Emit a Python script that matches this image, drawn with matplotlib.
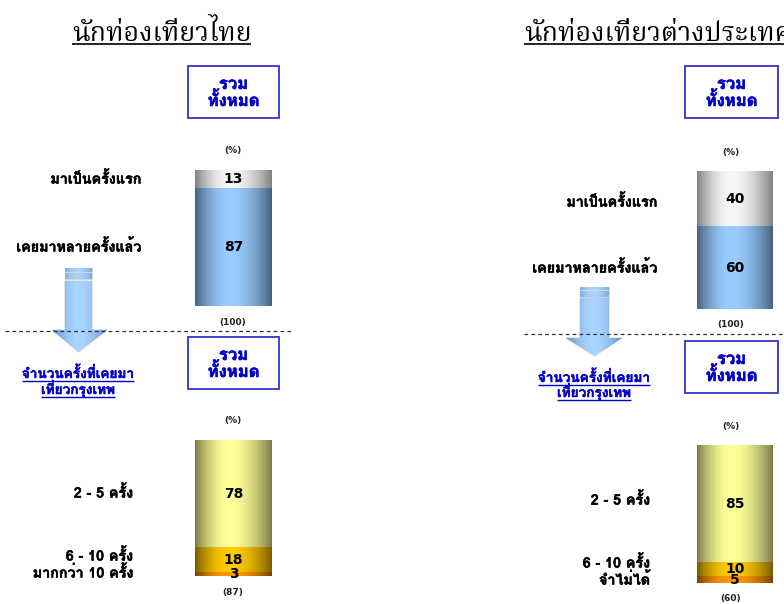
import numpy as np
import matplotlib
matplotlib.use('Agg')
import matplotlib.pyplot as plt
from matplotlib import font_manager, ft2font
from matplotlib.patches import Rectangle, Polygon
from matplotlib.colors import to_rgb
import matplotlib.patheffects as pe

# ---------------- data ----------------
panel_titles = ['นักท่องเที่ยวไทย', 'นักท่องเที่ยวต่างประเทศ']
box_label = 'รวม\nทั้งหมด'
link_lines = ['จำนวนครั้งที่เคยมา', 'เที่ยวกรุงเทพ']
unit_label = '(%)'
visit_categories = ['มาเป็นครั้งแรก', 'เคยมาหลายครั้งแล้ว']
thai_visit_values = [13, 87]
foreign_visit_values = [40, 60]
visit_bases = ['(100)', '(100)']
thai_freq_categories = ['2 - 5 ครั้ง', '6 - 10 ครั้ง', 'มากกว่า 10 ครั้ง']
thai_freq_values = [78, 18, 3]
foreign_freq_categories = ['2 - 5 ครั้ง', '6 - 10 ครั้ง', 'จำไม่ได้']
foreign_freq_values = [85, 10, 5]
freq_bases = ['(87)', '(60)']

# ---------------- fonts ----------------
def find_thai_fonts():
    names = []
    for fe in font_manager.fontManager.ttflist:
        if fe.name in names:
            continue
        try:
            f = ft2font.FT2Font(fe.fname)
            if 0x0E01 in f.get_charmap():
                names.append(fe.name)
        except Exception:
            pass
    return names

thai_avail = find_thai_fonts()
sans_pref = ['Tahoma', 'Loma', 'Noto Sans Thai', 'Garuda', 'Sarabun', 'Kinnari']
serif_pref = ['Angsana New', 'Norasi', 'Noto Serif Thai', 'FreeSerif', 'Kinnari']
SANS = next((n for n in sans_pref if n in thai_avail), thai_avail[0] if thai_avail else 'DejaVu Sans')
SERIF = next((n for n in serif_pref if n in thai_avail), SANS)
SANS_F = [SANS, 'DejaVu Sans']
SERIF_F = [SERIF, 'DejaVu Serif']
NUM_F = ['DejaVu Sans']

W, H = 784, 604
fig = plt.figure(figsize=(W / 100, H / 100), dpi=100)
ov = fig.add_axes([0, 0, 1, 1])
ov.set_xlim(0, W)
ov.set_ylim(H, 0)
ov.axis('off')

def bold_fx(color, w=0.35):
    return [pe.withStroke(linewidth=w, foreground=color)]

def px_axes(x0, y0, x1, y1):
    a = fig.add_axes([x0 / W, 1 - y1 / H, (x1 - x0) / W, (y1 - y0) / H])
    a.axis('off')
    return a

def gradient(c_edge, c_mid, n=256, peak=0.45):
    t = np.linspace(0, 1, n)
    d = np.where(t < peak, (peak - t) / peak, (t - peak) / (1 - peak))
    w = np.cos(np.clip(d, 0, 1) * np.pi / 2) ** 0.9
    e = np.array(to_rgb(c_edge)); m = np.array(to_rgb(c_mid))
    img = e[None, :] * (1 - w[:, None]) + m[None, :] * w[:, None]
    return img[None, :, :]

def fill_gradient(ax, patch, c_edge, c_mid, extent, peak=0.45):
    im = ax.imshow(gradient(c_edge, c_mid, peak=peak), extent=extent, aspect='auto',
                   interpolation='bilinear', zorder=patch.get_zorder())
    im.set_clip_path(patch)

def stacked_bar(rect, values, colors, total=None):
    ax = px_axes(*rect)
    total = total if total is not None else sum(values)
    bottoms = np.concatenate([[0], np.cumsum(values)[:-1]])
    bars = ax.bar(0, values, bottom=bottoms, width=1.0, color='none', edgecolor='none', zorder=2)
    for b, (ce, cm) in zip(bars, colors):
        x0 = b.get_x(); x1 = x0 + b.get_width()
        y0 = b.get_y(); y1 = y0 + b.get_height()
        fill_gradient(ax, b, ce, cm, (x0, x1, y1, y0))
    for v, bt in zip(values, bottoms):
        ax.text(0, bt + v / 2, str(v), ha='center', va='center', fontsize=10,
                fontweight='bold', family=NUM_F, color='black', zorder=5)
    ax.set_xlim(-0.5, 0.5)
    ax.set_ylim(total, 0)
    return ax

GRAY = ('#7f7f7f', '#f7f7f7')
BLUE = ('#46607c', '#99ccff')
YEL = ('#7a7a48', '#ffff99')
GOLD = ('#7a5a00', '#ffcc00')
ORNG = ('#7a3f00', '#ff9900')

def box(x0, y0, x1, y1):
    ov.add_patch(Rectangle((x0, y0), x1 - x0, y1 - y0, fill=False, edgecolor='#3333cc', lw=1.3))
    ov.text((x0 + x1) / 2, (y0 + y1) / 2 + 1, box_label, ha='center', va='center', fontsize=12,
            fontweight='bold', color='#0000cc', family=SANS_F, linespacing=1.0,
            path_effects=bold_fx('#0000cc', 0.4))

def label(x, y, s, size=10.3, ha='right'):
    ov.text(x, y, s, ha=ha, va='center', fontsize=size, fontweight='bold', family=SANS_F,
            color='black', path_effects=bold_fx('black', 0.35))

def small(x, y, s):
    ov.text(x, y, s, ha='center', va='center', fontsize=6.5, fontweight='bold', family=NUM_F, color='#222222')

def underline_text(x, y, s, size, color, ha='center', family=None, weight='normal', lw=1.0, off=2.5,
                   fit=None, fx=None):
    t = ov.text(x, y, s, ha=ha, va='baseline', fontsize=size, color=color,
                family=family, fontweight=weight, path_effects=fx)
    fig.canvas.draw()
    r = fig.canvas.get_renderer()
    bb = t.get_window_extent(renderer=r)
    if fit is not None:
        t.set_fontsize(size * fit / bb.width)
        fig.canvas.draw()
        bb = t.get_window_extent(renderer=r)
    inv = ov.transData.inverted()
    (xa, _), (xb, _) = inv.transform([(bb.x0, bb.y0), (bb.x1, bb.y0)])
    ov.plot([xa, xb], [y + off, y + off], color=color, lw=lw, solid_capstyle='butt')
    return t

def arrow(xs0, xs1, ys_top, stripe1, stripe2, yh, xw0, xw1, ytip):
    for (a, b) in (stripe1, stripe2):
        r = Rectangle((xs0, a), xs1 - xs0, b - a, facecolor='none', edgecolor='#d0d0d0', lw=0.6)
        ov.add_patch(r)
        fill_gradient(ov, r, '#7fa9d6', '#a8d4ff', (xs0, xs1, b, a))
    xm = (xs0 + xs1) / 2
    pts = [(xs0, ys_top), (xs1, ys_top), (xs1, yh), (xw1, yh), (xm, ytip), (xw0, yh), (xs0, yh)]
    p = Polygon(pts, closed=True, facecolor='none', edgecolor='#c8c8c8', lw=0.6)
    ov.add_patch(p)
    fill_gradient(ov, p, '#5f8cbc', '#a8d4ff', (xw0, xw1, ytip, ys_top), peak=0.5)

# ---------------- left panel ----------------
t1 = underline_text(72, 41, panel_titles[0], 21, 'black', ha='left', family=SERIF_F, lw=1.2, off=3, fit=180)
title_size = t1.get_fontsize()
box(188, 66, 279, 118)
small(233, 151, unit_label)
stacked_bar((195, 170, 272, 306), thai_visit_values, [GRAY, BLUE])
for lab, yy in zip(visit_categories, [179, 247]):
    label(141, yy, lab)
small(233, 322, visit_bases[0])
ov.plot([5, 293], [331, 331], color='#333333', lw=0.9, dashes=(3, 2.5))
arrow(65, 92, 281, (268, 272), (273, 279), 330, 52, 107, 352)
for s, yy in zip(link_lines, [378, 394]):
    underline_text(78, yy, s, 9.8, '#0000cc', family=SANS_F, weight='bold', lw=1.0, off=2.5,
                   fx=bold_fx('#0000cc', 0.3))
box(188, 337, 279, 389)
small(233, 421, unit_label)
stacked_bar((195, 440, 272, 576), thai_freq_values, [YEL, GOLD, ORNG])
for lab, yy in zip(thai_freq_categories, [493, 556, 573]):
    label(133, yy, lab)
small(233, 592, freq_bases[0])

# ---------------- right panel ----------------
underline_text(524, 41, panel_titles[1], title_size, 'black', ha='left', family=SERIF_F, lw=1.2, off=3)
box(685, 66, 778, 118)
small(731, 153, unit_label)
stacked_bar((697, 171, 773, 309), foreign_visit_values, [GRAY, BLUE])
for lab, yy in zip(visit_categories, [202, 268]):
    label(657, yy, lab)
small(731, 325, visit_bases[1])
ov.plot([524, 784], [334, 334], color='#333333', lw=0.9, dashes=(3, 2.5))
arrow(580, 609, 298, (287, 290), (291, 297), 338, 566, 622, 356)
for s, yy in zip(link_lines, [382, 397]):
    underline_text(594, yy, s, 9.8, '#0000cc', family=SANS_F, weight='bold', lw=1.0, off=2.5,
                   fx=bold_fx('#0000cc', 0.3))
box(685, 341, 778, 393)
small(731, 427, unit_label)
stacked_bar((697, 445, 773, 583), foreign_freq_values, [YEL, GOLD, ORNG])
for lab, yy in zip(foreign_freq_categories, [500, 563, 580]):
    label(650, yy, lab)
small(731, 599, freq_bases[1])

fig.savefig('out.png', dpi=100)
